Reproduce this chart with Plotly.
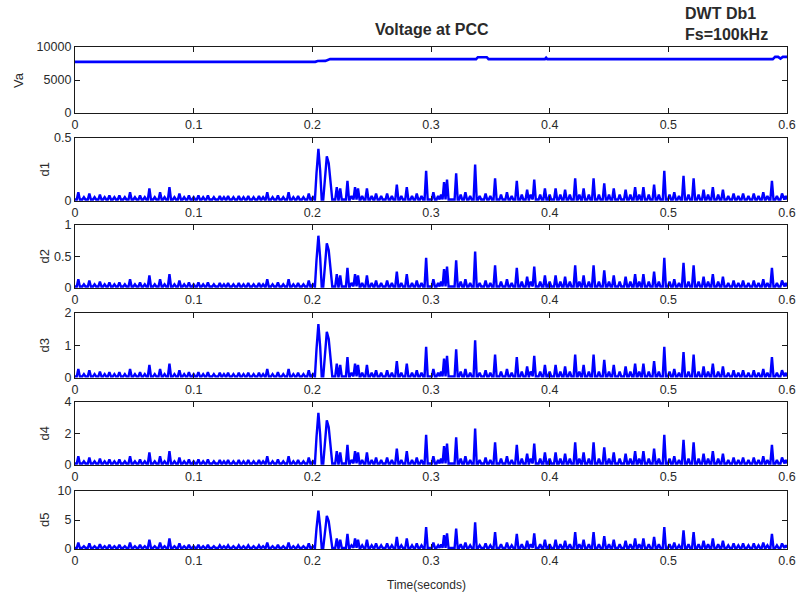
import plotly.graph_objects as go

# ---- Voltage at the point of common coupling (V) ----
va_t = [0, 0.2025, 0.2045, 0.2110, 0.2150, 0.3380, 0.3395, 0.3470, 0.3485,
        0.3960, 0.3970, 0.3980, 0.5880, 0.5900, 0.5925, 0.5945, 0.5965, 0.600]
va_v = [7750, 7750, 7870, 7900, 8160, 8160, 8450, 8450, 8160,
        8160, 8380, 8160, 8160, 8500, 8500, 8250, 8500, 8500]

# ---- Peak instants of the detail coefficients (s) ----
peak_t = [
    0.0028, 0.0075, 0.0121, 0.0165, 0.0210, 0.0250, 0.0290, 0.0332, 0.0374, 0.0420,
    0.0464, 0.0505, 0.0548, 0.0588, 0.0627, 0.0672, 0.0717, 0.0755, 0.0796, 0.0838,
    0.0880, 0.0920, 0.0960, 0.1000, 0.1040, 0.1080, 0.1120, 0.1170, 0.1220, 0.1255,
    0.1290, 0.1335, 0.1380, 0.1420, 0.1460, 0.1505, 0.1550, 0.1585, 0.1620, 0.1665,
    0.1710, 0.1755, 0.1800, 0.1840, 0.1880, 0.1925, 0.1970,
    0.2005, 0.2035, 0.2051, 0.2066, 0.2105, 0.2122, 0.2138, 0.2155, 0.2206, 0.2235,
    0.2296, 0.2330, 0.2360, 0.2385,
    0.2420, 0.2460, 0.2500, 0.2537, 0.2580, 0.2630, 0.2670, 0.2712, 0.2750, 0.2796,
    0.2840, 0.2880, 0.2920, 0.2959, 0.3020, 0.3060, 0.3085, 0.3110, 0.3135, 0.3212,
    0.3250, 0.3290, 0.3330, 0.3372, 0.3410, 0.3460, 0.3500, 0.3540, 0.3590, 0.3640,
    0.3680, 0.3723, 0.3765, 0.3810, 0.3840, 0.3870, 0.3920, 0.3960, 0.4000, 0.4050,
    0.4090, 0.4130, 0.4170, 0.4215, 0.4250, 0.4286, 0.4330, 0.4370, 0.4415, 0.4460,
    0.4500, 0.4540, 0.4590, 0.4640, 0.4680, 0.4720, 0.4755, 0.4790, 0.4835, 0.4880,
    0.4920, 0.4966, 0.5010, 0.5050, 0.5090, 0.5128, 0.5170, 0.5213, 0.5255, 0.5297,
    0.5335, 0.5375, 0.5420, 0.5460, 0.5505, 0.5550, 0.5590, 0.5630, 0.5675, 0.5720,
    0.5760, 0.5800, 0.5835, 0.5873, 0.5915, 0.5958, 0.5990,
]

# ---- Peak magnitudes of each detail level ----
d1_peak = [
    .07, .03, .06, .03, .05, .03, .045, .03, .045, .03,
    .07, .03, .045, .03, .10, .03, .07, .03, .11, .03,
    .06, .03, .045, .03, .045, .03, .045, .03, .04, .03,
    .04, .03, .04, .03, .04, .03, .04, .03, .07, .03,
    .045, .03, .07, .03, .04, .03, .06,
    .03, .22, .415, .24, .20, .355, .30, .14, .11, .10,
    .16, .04, .11, .10,
    .04, .10, .04, .06, .04, .06, .04, .13, .04, .11,
    .04, .06, .04, .24, .07, .04, .05, .15, .17, .22,
    .05, .07, .04, .29, .04, .06, .04, .18, .05, .07,
    .04, .16, .05, .09, .05, .17, .05, .10, .05, .10,
    .05, .09, .05, .18, .05, .10, .05, .18, .05, .14,
    .05, .10, .05, .09, .05, .11, .05, .11, .05, .13,
    .05, .24, .05, .07, .04, .20, .05, .18, .05, .09,
    .05, .11, .05, .09, .04, .06, .04, .06, .04, .06,
    .04, .07, .04, .16, .04, .06, .04,
]
d2_peak = [
    .14, .06, .12, .06, .10, .06, .09, .06, .09, .06,
    .14, .06, .09, .06, .20, .06, .14, .06, .22, .06,
    .12, .06, .09, .06, .09, .06, .09, .06, .08, .06,
    .08, .06, .08, .06, .08, .06, .08, .06, .14, .06,
    .09, .06, .14, .06, .08, .06, .12,
    .06, .44, .83, .48, .40, .71, .60, .28, .22, .20,
    .32, .08, .22, .20,
    .08, .20, .08, .12, .08, .12, .08, .26, .08, .22,
    .08, .12, .08, .48, .14, .08, .10, .30, .34, .44,
    .10, .14, .08, .58, .08, .12, .08, .36, .10, .14,
    .08, .32, .10, .18, .10, .34, .10, .20, .10, .20,
    .10, .18, .10, .36, .10, .20, .10, .36, .10, .28,
    .10, .20, .10, .18, .10, .22, .10, .22, .10, .26,
    .10, .48, .10, .14, .08, .40, .10, .36, .10, .18,
    .10, .22, .10, .18, .08, .12, .08, .12, .08, .12,
    .08, .14, .08, .32, .08, .12, .08,
]
d3_peak = [
    .28, .12, .24, .12, .20, .12, .18, .12, .18, .12,
    .28, .12, .18, .12, .40, .12, .28, .12, .44, .12,
    .24, .12, .18, .12, .18, .12, .18, .12, .16, .12,
    .16, .12, .16, .12, .16, .12, .16, .12, .28, .12,
    .18, .12, .28, .12, .16, .12, .24,
    .12, .88, 1.66, .96, .80, 1.42, 1.20, .56, .44, .40,
    .64, .16, .44, .40,
    .16, .40, .16, .24, .16, .24, .16, .52, .16, .44,
    .16, .24, .16, .96, .28, .16, .20, .60, .68, .88,
    .20, .28, .16, 1.16, .16, .24, .16, .72, .20, .28,
    .16, .64, .20, .36, .20, .68, .20, .40, .20, .40,
    .20, .36, .20, .72, .20, .40, .20, .72, .20, .56,
    .20, .40, .20, .36, .20, .44, .20, .44, .20, .52,
    .20, .96, .20, .28, .16, .80, .20, .72, .20, .36,
    .20, .44, .20, .36, .16, .24, .16, .24, .16, .24,
    .16, .28, .16, .64, .16, .24, .16,
]
d4_peak = [
    .56, .24, .48, .24, .40, .24, .36, .24, .36, .24,
    .56, .24, .36, .24, .80, .24, .56, .24, .88, .24,
    .48, .24, .36, .24, .36, .24, .36, .24, .32, .24,
    .32, .24, .32, .24, .32, .24, .32, .24, .56, .24,
    .36, .24, .56, .24, .32, .24, .48,
    .24, 1.76, 3.32, 1.92, 1.60, 2.84, 2.40, 1.12, .88, .80,
    1.28, .32, .88, .80,
    .32, .80, .32, .48, .32, .48, .32, 1.04, .32, .88,
    .32, .48, .32, 1.92, .56, .32, .40, 1.20, 1.36, 1.76,
    .40, .56, .32, 2.32, .32, .48, .32, 1.44, .40, .56,
    .32, 1.28, .40, .72, .40, 1.36, .40, .80, .40, .80,
    .40, .72, .40, 1.44, .40, .80, .40, 1.44, .40, 1.12,
    .40, .80, .40, .72, .40, .88, .40, .88, .40, 1.04,
    .40, 1.92, .40, .56, .32, 1.60, .40, 1.44, .40, .72,
    .40, .88, .40, .72, .32, .48, .32, .48, .32, .48,
    .32, .56, .32, 1.28, .32, .48, .32,
]
d5_peak = [
    1.1, .48, .96, .48, .80, .48, .72, .48, .72, .48,
    1.1, .48, .72, .48, 1.6, .48, 1.1, .48, 1.8, .48,
    .96, .48, .72, .48, .72, .48, .72, .48, .64, .48,
    .64, .48, .64, .48, .64, .48, .64, .48, 1.1, .48,
    .72, .48, 1.1, .48, .64, .48, .96,
    .48, 3.5, 6.6, 3.8, 3.2, 5.7, 4.8, 2.2, 1.8, 1.6,
    2.6, .64, 1.8, 1.6,
    .64, 1.6, .64, .96, .64, .96, .64, 2.1, .64, 1.8,
    .64, .96, .64, 3.8, 1.1, .64, .80, 2.4, 2.7, 3.5,
    .80, 1.1, .64, 4.6, .64, .96, .64, 2.9, .80, 1.1,
    .64, 2.6, .80, 1.4, .80, 2.7, .80, 1.6, .80, 1.6,
    .80, 1.4, .80, 2.9, .80, 1.6, .80, 2.9, .80, 2.2,
    .80, 1.6, .80, 1.4, .80, 1.8, .80, 1.8, .80, 2.1,
    .80, 3.8, .80, 1.1, .64, 3.2, .80, 2.9, .80, 1.4,
    .80, 1.8, .80, 1.4, .64, .96, .64, .96, .64, .96,
    .64, 1.1, .64, 2.6, .64, .96, .64,
]
# resting level between pulses for d1..d5
floor_level = [0.012, 0.025, 0.05, 0.1, 0.2]

panel_names = ["Va", "d1", "d2", "d3", "d4", "d5"]
y_ranges = [[0, 10000], [0, 0.5], [0, 1], [0, 2], [0, 4], [0, 10]]
y_ticks = [[0, 5000, 10000], [0, 0.5], [0, 0.5, 1], [0, 1, 2], [0, 2, 4], [0, 5, 10]]
y_ticktext = [["0", "5000", "10000"], ["0", "0.5"], ["0", "0.5", "1"],
              ["0", "1", "2"], ["0", "2", "4"], ["0", "5", "10"]]
x_ticks = [0, 0.1, 0.2, 0.3, 0.4, 0.5, 0.6]
x_ticktext = ["0", "0.1", "0.2", "0.3", "0.4", "0.5", "0.6"]

T_END = 0.6
HALF_W = 0.0013   # half-width of a single pulse (s)
MIN_GAP = 0.002   # closer peaks are joined without dropping to rest


def pulse_path(times, peaks, rest):
    xs, ys = [0.0], [rest]
    n = len(times)
    for i, (t, h) in enumerate(zip(times, peaks)):
        sep_prev = i == 0 or (t - times[i - 1]) >= MIN_GAP
        if sep_prev:
            lo = t - HALF_W
            if i > 0:
                lo = max(lo, 0.5 * (t + times[i - 1]))
            lo = max(lo, 0.0)
            if lo > xs[-1]:
                xs.append(lo)
                ys.append(rest)
        xs.append(t)
        ys.append(h)
        if i < n - 1:
            if times[i + 1] - t >= MIN_GAP:
                hi = min(t + HALF_W, 0.5 * (t + times[i + 1]))
                xs.append(hi)
                ys.append(rest)
        else:
            xs.append(min(t + HALF_W, T_END))
            ys.append(rest)
    xs.append(T_END)
    ys.append(rest)
    return xs, ys


# panel vertical extents in paper units (top panel first)
domains = [[0.8685, 1.0], [0.6932, 0.8187], [0.5199, 0.6454],
           [0.3406, 0.4701], [0.1673, 0.2928], [0.0, 0.1155]]

BLUE = "#0000ff"
TXT = "#2a2a2a"
FONT = "Liberation Sans, Arial, sans-serif"

fig = go.Figure()

series = [(va_t, va_v)]
for peaks, rest in zip([d1_peak, d2_peak, d3_peak, d4_peak, d5_peak], floor_level):
    series.append(pulse_path(peak_t, peaks, rest))

for k, (xs, ys) in enumerate(series):
    suffix = "" if k == 0 else str(k + 1)
    fig.add_trace(go.Scatter(
        x=xs, y=ys, mode="lines",
        line=dict(color=BLUE, width=2.4 if k else 2.6),
        xaxis="x" + suffix, yaxis="y" + suffix,
        showlegend=False, hoverinfo="skip",
    ))

axis_common = dict(
    showline=True, linecolor="#1a1a1a", linewidth=1.3, mirror="ticks",
    ticks="inside", ticklen=5, tickwidth=1, tickcolor="#1a1a1a",
    showgrid=False, zeroline=False, automargin=False,
    tickfont=dict(family=FONT, size=12.5, color=TXT),
)

layout = dict(
    width=796, height=593,
    margin=dict(l=75, r=9, t=47, b=44),
    paper_bgcolor="white", plot_bgcolor="white",
    showlegend=False,
)
annotations = []
for k in range(6):
    suffix = "" if k == 0 else str(k + 1)
    layout["xaxis" + suffix] = dict(
        axis_common, domain=[0, 1], range=[0, T_END],
        tickmode="array", tickvals=x_ticks, ticktext=x_ticktext,
        anchor="y" + suffix,
    )
    layout["yaxis" + suffix] = dict(
        axis_common, domain=domains[k], range=y_ranges[k],
        tickmode="array", tickvals=y_ticks[k], ticktext=y_ticktext[k],
        anchor="x" + suffix,
    )
    y_mid = 0.5 * (domains[k][0] + domains[k][1])
    annotations.append(dict(
        text=panel_names[k], xref="paper", yref="paper",
        x=-0.080 if k == 0 else -0.0435, y=y_mid,
        xanchor="center", yanchor="middle", textangle=-90, showarrow=False,
        font=dict(family=FONT, size=13, color=TXT),
    ))

annotations += [
    dict(text="<b>Voltage at PCC</b>", xref="paper", yref="paper",
         x=0.501, y=1.034, xanchor="center", yanchor="middle", showarrow=False,
         font=dict(family=FONT, size=16, color=TXT)),
    dict(text="<b>DWT Db1<br>Fs=100kHz</b>", xref="paper", yref="paper",
         x=0.854, y=1.046, xanchor="left", yanchor="middle", align="left",
         showarrow=False,
         font=dict(family=FONT, size=16, color=TXT)),
    dict(text="Time(seconds)", xref="paper", yref="paper",
         x=0.493, y=-0.0717, xanchor="center", yanchor="middle", showarrow=False,
         font=dict(family=FONT, size=12, color=TXT)),
]
layout["annotations"] = annotations

fig.update_layout(**layout)
fig.write_html("out.html")
